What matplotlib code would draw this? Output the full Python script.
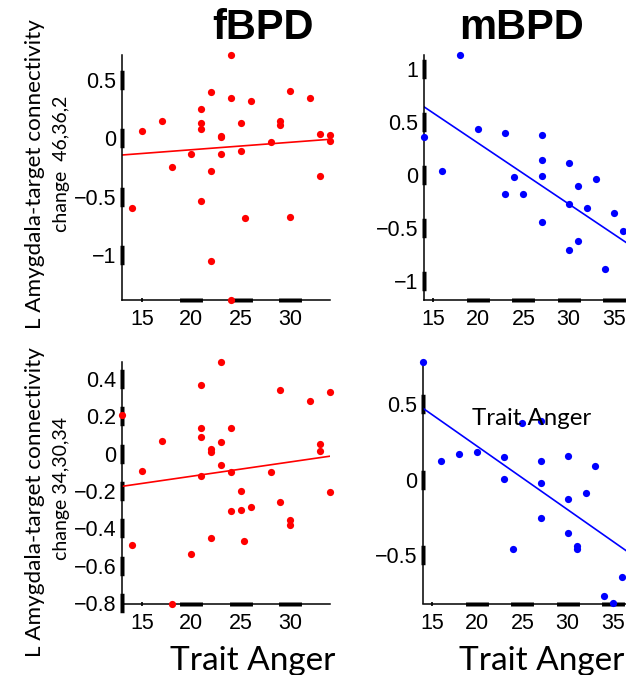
#!/usr/bin/env python
import numpy as np
import matplotlib as mpl
import matplotlib.pyplot as plt

mpl.rcParams['font.family'] = 'Liberation Sans'
mpl.rcParams['axes.linewidth'] = 1.1

W, H = 626, 675

# fBPD, target 46,36,2
f_top_x = [24, 30, 22, 24, 26, 32, 21, 17, 15, 21, 21, 25, 29, 29, 23, 23, 33,
           34, 34, 28, 20, 23, 25, 18, 22, 33, 21, 14, 25.4, 30, 22, 24]
f_top_y = [0.71, 0.40, 0.39, 0.34, 0.315, 0.34, 0.245, 0.148, 0.06, 0.125, 0.074,
           0.128, 0.148, 0.108, 0.02, 0.006, 0.034, 0.028, -0.028, -0.03, -0.14,
           -0.14, -0.114, -0.25, -0.28, -0.324, -0.537, -0.594, -0.68, -0.671,
           -1.05, -1.38]
# fBPD, target 34,30,34
f_bot_x = [23, 21, 29, 34, 32, 13, 21, 24, 21, 17, 23, 22, 22, 33, 33, 23, 15,
           21, 24, 28, 25, 34, 29, 26, 25, 24, 30, 30, 22, 25.3, 14, 20, 18]
f_bot_y = [0.489, 0.371, 0.344, 0.33, 0.283, 0.206, 0.14, 0.138, 0.09, 0.068,
           0.063, 0.024, 0.009, 0.052, 0.015, -0.061, -0.091, -0.118, -0.098,
           -0.097, -0.199, -0.204, -0.258, -0.288, -0.304, -0.308, -0.356,
           -0.382, -0.452, -0.468, -0.489, -0.538, -0.803]
# mBPD, target 46,36,2
m_top_x = [18, 14, 16, 20, 23, 27, 27, 27, 24, 23, 25, 27, 30, 31, 33, 30, 32,
           35, 36, 30, 31, 34, 37]
m_top_y = [1.13, 0.358, 0.035, 0.433, 0.395, 0.373, 0.144, -0.009, -0.016,
           -0.173, -0.176, -0.44, 0.113, -0.10, -0.038, -0.276, -0.308, -0.358,
           -0.524, -0.706, -0.618, -0.879, -1.17]
# mBPD, target 34,30,34
m_bot_x = [14, 16, 18, 20, 23, 23, 24, 25, 27, 27, 27, 27, 30, 30, 30, 31, 31,
           32, 33, 34, 35, 36, 37]
m_bot_y = [0.775, 0.121, 0.167, 0.182, 0.152, 0.007, -0.46, 0.373, 0.386, 0.127,
           -0.02, -0.25, 0.158, -0.125, -0.354, -0.435, -0.461, -0.088, 0.092,
           -0.769, -0.818, -0.644, -0.158]

# regression lines as drawn in the figure (slope, intercept)
f_top_fit = (0.0064, -0.228)
f_bot_fit = (0.0077, -0.275)
m_top_fit = (-0.0571, 1.442)
m_bot_fit = (-0.0419, 1.059)

f_xticks = [15, 20, 25, 30]
m_xticks = [15, 20, 25, 30, 35]
f_top_yticks = [-1, -0.5, 0, 0.5]
f_bot_yticks = [-0.8, -0.6, -0.4, -0.2, 0, 0.2, 0.4]
m_top_yticks = [-1, -0.5, 0, 0.5, 1]
m_bot_yticks = [-0.5, 0, 0.5]

titles = ['fBPD', 'mBPD']
xlabel = 'Trait Anger'
ylabel_1 = 'L Amygdala-target connectivity'
ylabel_2 = ['change  46,36,2', 'change 34,30,34']


def px_axes(fig, left, top, right, bottom):
    return fig.add_axes([left / W, 1 - bottom / H, (right - left) / W, (bottom - top) / H])


def fmt(v):
    return ('%g' % v).replace('-', '\u2212')


def panel(ax, x, y, fit, color, xlim, xticks, yticks):
    x = np.asarray(x, float)
    y = np.asarray(y, float)
    ax.scatter(x, y, s=27, color=color, linewidths=0, zorder=3, clip_on=False)
    k, b = fit
    xs = np.array(xlim, float)
    ax.plot(xs, k * xs + b, color=color, lw=1.2)
    ax.set_xlim(xlim)
    ax.set_ylim(y.min(), y.max())
    ax.spines[['top', 'right']].set_visible(False)
    ax.set_xticks(xticks)
    ax.set_xticklabels([fmt(v) for v in xticks])
    ax.set_yticks(yticks)
    ax.set_yticklabels([fmt(v) for v in yticks])
    # matlab-ish squashed tick bars
    ax.tick_params(axis='y', direction='inout', length=3, width=14, pad=2.5, labelsize=15.5)
    ax.tick_params(axis='x', direction='inout', length=3, width=16.5, pad=5.5, labelsize=15.5)
    ax.xaxis.get_major_ticks()[0].tick1line.set_markeredgewidth(1.2)


def main():
    fig = plt.figure(figsize=(W / 100, H / 100), dpi=100)
    f_lim = (min(f_top_x + f_bot_x), max(f_top_x + f_bot_x))
    m_lim = (min(m_top_x + m_bot_x), max(m_top_x + m_bot_x))

    ax = px_axes(fig, 122, 55, 330, 299.5)
    panel(ax, f_top_x, f_top_y, f_top_fit, 'red', f_lim, f_xticks, f_top_yticks)
    ax = px_axes(fig, 122, 362.5, 330, 603.5)
    panel(ax, f_bot_x, f_bot_y, f_bot_fit, 'red', f_lim, f_xticks, f_bot_yticks)
    ax = px_axes(fig, 424, 55, 632, 299.5)
    panel(ax, m_top_x, m_top_y, m_top_fit, 'blue', m_lim, m_xticks, m_top_yticks)
    ax = px_axes(fig, 423, 362.5, 631, 603.5)
    panel(ax, m_bot_x, m_bot_y, m_bot_fit, 'blue', m_lim, m_xticks, m_bot_yticks)

    for t, cx in zip(titles, [263, 521.5]):
        fig.text(cx / W, 1 - 39.3 / H, t, ha='center', va='baseline',
                 fontsize=30, fontweight='bold')
    for cx in [253, 541.7]:
        fig.text(cx / W, 1 - 669.5 / H, xlabel, ha='center', va='baseline',
                 fontsize=24, family='Lato')
    # stray label sitting inside the mBPD bottom panel
    fig.text(531.5 / W, 1 - 425 / H, xlabel, ha='center', va='baseline',
             fontsize=17.3, family='Lato')

    for cy1, cy2, lab2 in zip([174, 502], [164, 489], ylabel_2):
        fig.text(35 / W, 1 - cy1 / H, ylabel_1, rotation=90, ha='center',
                 va='center', fontsize=16.2, family='Lato')
        fig.text(61 / W, 1 - cy2 / H, lab2, rotation=90, ha='center',
                 va='center', fontsize=14, family='Lato')

    plt.savefig('out.png', dpi=100)


if __name__ == '__main__':
    main()
